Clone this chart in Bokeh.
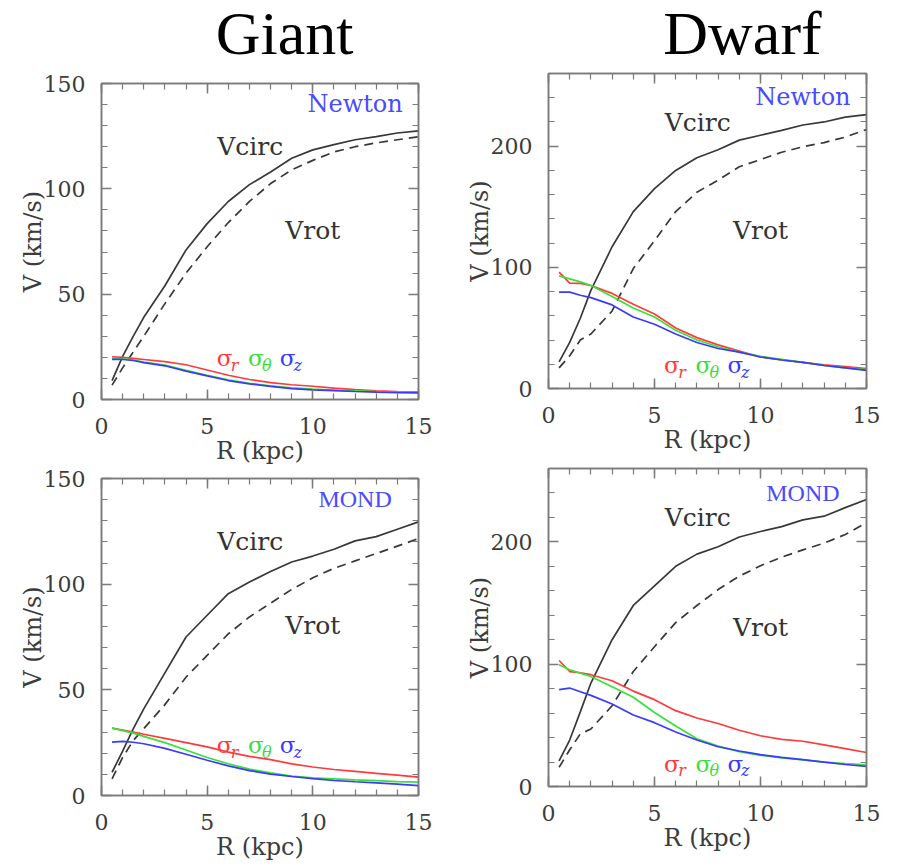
from bokeh.plotting import figure
from bokeh.layouts import row, column
from bokeh.models import LinearAxis, SingleIntervalTicker, Range1d
from bokeh.core.properties import value
from bokeh.embed import file_html
from bokeh.resources import INLINE

# ---------------- data ----------------
R = [0.5, 1, 1.5, 2, 3, 4, 5, 6, 7, 8, 9, 10, 11, 12, 13, 14, 15]

giant_newton_vcirc = [9, 20.5, 30, 39, 54, 71, 83.5, 94, 102, 108, 114.5, 118.5, 121, 123.3, 124.8, 126.5, 127.5]
giant_newton_vrot = [6.8, 15, 22.5, 30, 45.5, 60, 72.5, 84, 94, 102.5, 109, 113.5, 117.5, 120, 121.8, 123.3, 124.7]
giant_newton_sr = [20.3, 20, 19.5, 19, 18, 16.5, 14, 11.5, 9.5, 8, 7, 6.3, 5.4, 4.7, 4.1, 3.8, 3.6]
giant_newton_st = [19.5, 19.3, 18.8, 17.8, 16.3, 13.8, 11.5, 9.3, 7.7, 6.5, 5.5, 4.9, 4.5, 4.1, 3.8, 3.6, 3.4]
giant_newton_sz = [19, 19, 18.5, 17.5, 16, 13.5, 11.2, 9, 7.4, 6.2, 5.2, 4.6, 4.2, 3.8, 3.5, 3.3, 3.1]

dwarf_newton_vcirc = [22, 38, 58, 81, 117, 146, 165, 180, 190.5, 197, 205, 209, 213, 217.5, 220, 224, 226]
dwarf_newton_vrot = [17, 27, 40, 45, 64, 99, 122, 146, 162, 172, 183, 189, 195, 199.5, 203, 207.5, 213.7]
dwarf_newton_sr = [96, 87, 86.8, 85, 78.5, 69.5, 61.5, 50, 42, 36, 31, 26, 23.5, 21.5, 19.5, 18, 16.4]
dwarf_newton_st = [93, 90.5, 88, 85, 76, 66.5, 59, 48, 40, 34.5, 30, 26.5, 24, 21.5, 19, 17, 15.6]
dwarf_newton_sz = [79.5, 79.5, 77, 75, 69, 59, 53, 45, 38, 33, 30, 26, 23.5, 21.5, 19, 17, 15]

giant_mond_vcirc = [11, 21, 31.5, 41, 58, 75, 85.3, 95.5, 101, 106, 110.5, 113.3, 116.5, 120.5, 122.5, 126, 129.5]
giant_mond_vrot = [7.9, 18, 26, 31.6, 43, 56, 66.3, 76.5, 84.5, 91, 97.5, 103, 107.5, 111, 114.5, 118, 121.6]
giant_mond_sr = [31.9, 31, 30, 29, 27, 25, 23, 20.5, 18.5, 17, 15, 13.5, 12.3, 11.4, 10.5, 9.6, 8.7]
giant_mond_st = [31.9, 30.7, 29.5, 28, 25, 21.5, 18, 15, 12.5, 10.7, 9.2, 8.3, 7.9, 7.4, 7, 6.6, 6.3]
giant_mond_sz = [25.3, 25.6, 25.2, 24.5, 22.3, 19.5, 16.7, 14, 11.8, 10.1, 9, 8, 7.1, 6.5, 6, 5.4, 4.7]

dwarf_mond_vcirc = [21, 38, 61, 84.6, 120, 148, 164, 180, 190, 196, 204, 208.5, 212.5, 218, 221, 228, 234.6]
dwarf_mond_vrot = [15.7, 30, 43, 47, 66, 94, 114.3, 134, 148, 161, 172, 180.5, 187.5, 193.5, 199, 206, 215.7]
dwarf_mond_sr = [103, 94, 93, 91.4, 86.5, 78, 71, 62, 56, 51.5, 46, 41.5, 38.6, 37, 34, 31, 27.8]
dwarf_mond_st = [99.5, 95.5, 92.7, 90, 81.5, 73, 60.5, 49.5, 39, 33, 28.5, 25.5, 23.3, 21.7, 20, 18.8, 17.8]
dwarf_mond_sz = [79.2, 80.5, 77.5, 74.5, 67.5, 58.5, 52.2, 44.5, 38, 32.5, 29, 26, 23.8, 22, 20, 18, 16.5]

titles = ["Giant", "Dwarf"]
models = ["Newton", "MOND"]
x_label = "R (kpc)"
y_label = "V (km/s)"
sigma_names = ["r", "\u03b8", "z"]

FONT = "DejaVu Serif"
AX_COLOR = "#7a7a7a"
TXT_COLOR = "#3c3c3c"
HEADER_H = 60


def style_axis(ax, labels=True):
    ax.axis_line_color = AX_COLOR
    ax.axis_line_width = 1.5
    ax.major_tick_line_color = AX_COLOR
    ax.minor_tick_line_color = AX_COLOR
    ax.major_tick_line_width = 1.5
    ax.minor_tick_line_width = 1.2
    ax.major_tick_in = 10
    ax.major_tick_out = 0
    ax.minor_tick_in = 6
    ax.minor_tick_out = 0
    ax.major_label_text_font = FONT
    ax.axis_label_text_font = FONT
    ax.axis_label_text_font_style = "normal"
    ax.axis_label_text_color = TXT_COLOR
    if labels:
        ax.major_label_text_color = TXT_COLOR
        ax.major_label_text_font_size = "22px"
        ax.axis_label_text_font_size = "24px"
    else:
        ax.major_label_text_color = None
        ax.major_label_text_font_size = "1px"
        ax.major_label_standoff = 0


def panel(width, height, bl, br, bt, bb, ymax, yint, vc, vr, sr, st, sz,
          model, model_y, vcirc_y, vrot_y, sig_y):
    p = figure(width=width, height=height, x_range=Range1d(0, 15), y_range=Range1d(0, ymax),
               output_backend="svg", toolbar_location=None,
               min_border_left=bl, min_border_right=br, min_border_top=bt, min_border_bottom=bb,
               x_axis_label=x_label, y_axis_label=y_label)
    p.xgrid.visible = False
    p.ygrid.visible = False
    p.outline_line_color = AX_COLOR
    p.outline_line_width = 1.5
    p.background_fill_color = "white"
    p.border_fill_color = "white"

    xt = SingleIntervalTicker(interval=5, num_minor_ticks=5)
    yt = SingleIntervalTicker(interval=yint, num_minor_ticks=5)
    p.xaxis.ticker = xt
    p.yaxis.ticker = yt
    for ax in p.xaxis:
        style_axis(ax)
        ax.major_label_standoff = 18
        ax.axis_label_standoff = 0
    for ax in p.yaxis:
        style_axis(ax)
        ax.major_label_standoff = 16
        ax.axis_label_standoff = -6
    top = LinearAxis(ticker=xt)
    style_axis(top, labels=False)
    right = LinearAxis(ticker=yt)
    style_axis(right, labels=False)
    p.add_layout(top, "above")
    p.add_layout(right, "right")

    p.line(R, vc, line_color="#383838", line_width=1.7)
    p.line(R, vr, line_color="#383838", line_width=1.7, line_dash="9 6")
    p.line(R, sr, line_color="#ff3a3a", line_width=1.7)
    p.line(R, st, line_color="#3ae03a", line_width=1.7)
    p.line(R, sz, line_color="#3a3aff", line_width=1.7)

    mfont = FONT if model == "Newton" else "Liberation Serif"
    p.text(x=[12.0], y=[model_y], text=[model], text_align="center", text_baseline="middle",
           text_color="#4a4aff", text_font=value(mfont), text_font_size="24px")
    p.text(x=[7.04, 10.0], y=[vcirc_y, vrot_y], text=["Vcirc", "Vrot"], text_align="center",
           text_baseline="middle", text_color="#333333", text_font=value(FONT),
           text_font_size="25px")
    cols = ["#ff3a3a", "#3ae03a", "#3a3aff"]
    p.text(x=[5.45, 6.93, 8.44], y=[sig_y] * 3, text=["\u03c3"] * 3, text_align="left",
           text_baseline="alphabetic", text_color=cols, text_font=value(FONT),
           text_font_size="23px")
    p.text(x=[6.12, 7.6, 9.08], y=[sig_y] * 3, y_offset=7, text=sigma_names, text_align="left",
           text_baseline="alphabetic", text_color=cols, text_font=value(FONT),
           text_font_style="italic", text_font_size="16px")
    return p


# header strip holding the two column titles (screen-pixel coordinates, y measured from top)
header = figure(frame_width=897, frame_height=HEADER_H, title=None,
                x_range=Range1d(0, 897), y_range=Range1d(HEADER_H, 0),
                output_backend="svg", toolbar_location=None,
                min_border=0, min_border_left=0, min_border_right=0,
                min_border_top=0, min_border_bottom=0,
                x_axis_location=None, y_axis_location=None)
header.outline_line_color = None
header.xgrid.visible = False
header.ygrid.visible = False
header.text(x=[284, 742], y=[32, 32], text=titles, text_align="center", text_baseline="alphabetic",
            text_color="black", text_font=value("Liberation Serif"), text_font_size="62px")

A = panel(447, 408, 101, 29, 83 - HEADER_H, 69, 150, 50,
          giant_newton_vcirc, giant_newton_vrot, giant_newton_sr, giant_newton_st, giant_newton_sz,
          models[0], 140.5, 120, 80.2, 19.5)
C = panel(447, 395, 101, 29, 10, 68, 150, 50,
          giant_mond_vcirc, giant_mond_vrot, giant_mond_sr, giant_mond_st, giant_mond_sz,
          models[1], 140.4, 120.2, 80.4, 23.7)
B = panel(450, 398, 101, 31, 73 - HEADER_H, 70, 260, 100,
          dwarf_newton_vcirc, dwarf_newton_vrot, dwarf_newton_sr, dwarf_newton_st, dwarf_newton_sz,
          models[0], 240.4, 219.8, 130.4, 19)
D = panel(450, 396, 101, 31, 10, 68, 260, 100,
          dwarf_mond_vcirc, dwarf_mond_vrot, dwarf_mond_sr, dwarf_mond_st, dwarf_mond_sz,
          models[1], 240, 220.2, 130, 18.8)

layout = column(header, row(column(A, C), column(B, D)))
open("out.html", "w").write(file_html(layout, INLINE))
